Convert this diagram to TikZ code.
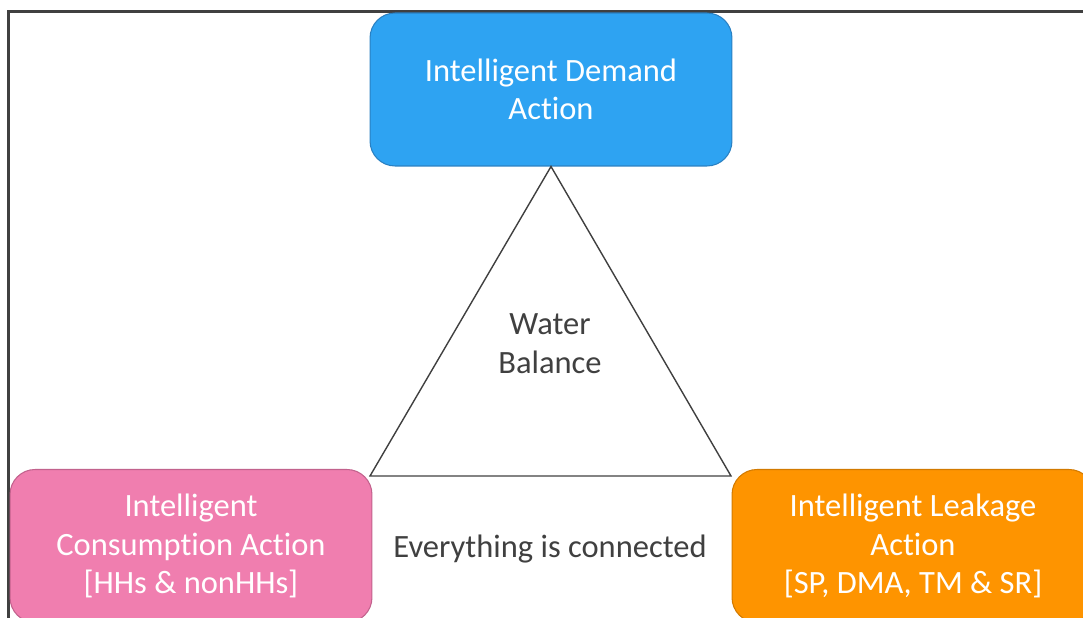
\documentclass[tikz,border=0pt]{standalone}
\usepackage{fontspec}
\setmainfont{Carlito}[Ligatures=NoCommon]
\usetikzlibrary{positioning}
\definecolor{demandblue}{HTML}{2EA3F2}
\definecolor{demandedge}{HTML}{2A80C2}
\definecolor{consumpink}{HTML}{F07EAF}
\definecolor{consumedge}{HTML}{C2628D}
\definecolor{leakorange}{HTML}{FE9400}
\definecolor{leakedge}{HTML}{D27A00}
\definecolor{linegray}{HTML}{404040}
\tikzset{
  actionbox/.style={rounded corners=0.5cm, minimum width=7.24cm, minimum height=3.06cm,
    text=white, align=center, font=\fontsize{18.5}{22}\selectfont, line width=0.6pt},
  plaintext/.style={text=linegray, align=center, font=\fontsize{18.5}{22}\selectfont}
}

\begin{document}
\begin{tikzpicture}[x=0.02cm, y=-0.02cm]
  \useasboundingbox (0,0) rectangle (1083,618);
  \clip (0,0) rectangle (1083,618);
% Frame
  \draw[linegray, line width=1.2pt] (8.5,640) -- (8.5,11.5) -- (1090,11.5);
% Boxes
  \node[actionbox, fill=demandblue, draw=demandedge] (demand) at (551,89.5)
    {Intelligent Demand\\Action};
  \node[actionbox, fill=consumpink, draw=consumedge] (consumption) at (191,546)
    {Intelligent\\Consumption Action\\{[HHs \& nonHHs]}};
  \node[actionbox, fill=leakorange, draw=leakedge] (leakage) at (913,546)
    {Intelligent Leakage\\Action\\{[SP, DMA, TM \& SR]}};
% Triangle
  \coordinate (apex) at (demand.south);
  \coordinate (baseleft) at (370,476);
  \coordinate (baseright) at (731,476);
  \draw[linegray, line width=0.8pt, line join=miter] (apex) -- (baseleft) -- (baseright) -- cycle;
% Labels
  \node[plaintext] (balance) at (550,344) {Water\\Balance};
  \node[plaintext] (connected) at (550,549) {Everything is connected};
\end{tikzpicture}
\end{document}
